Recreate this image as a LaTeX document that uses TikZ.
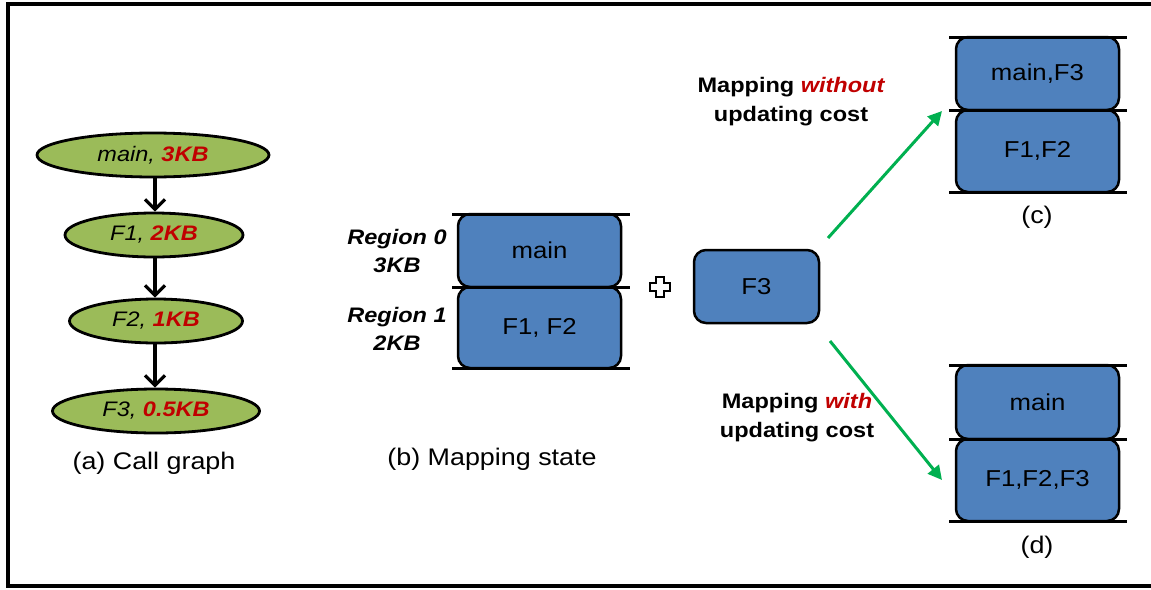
\documentclass[tikz,border=0pt]{standalone}
\usepackage{fontspec}
\setmainfont[FakeStretch=1.12]{Liberation Sans}
\usetikzlibrary{shapes.geometric,arrows.meta,calc}
\definecolor{ovgreen}{HTML}{9BBB59}
\definecolor{ofblue}{HTML}{4F81BD}
\definecolor{dred}{HTML}{C00000}
\definecolor{agreen}{HTML}{00B050}
\tikzset{
  ell/.style={ellipse,draw=black,line width=2.8pt,fill=ovgreen,minimum height=44pt,inner sep=0pt,font=\fontsize{21}{25}\selectfont\itshape},
  blk/.style={rectangle,rounded corners=12pt,draw=black,line width=2.5pt,fill=ofblue,inner sep=0pt,font=\fontsize{23}{27}\selectfont},
  bar/.style={line width=3pt},
  cg/.style={draw=black,line width=3.6pt,-{Straight Barb[length=10pt,width=20pt,line width=3.2pt]}},
  ga/.style={line width=3pt,agreen,-{Triangle[length=14pt,width=14pt]}},
  lbl/.style={font=\fontsize{21}{29}\selectfont,align=center,inner sep=0pt},
  subcap/.style={font=\fontsize{24}{29}\selectfont,inner sep=0pt},
}
\newcommand{\kb}[1]{\textcolor{dred}{\bfseries #1}}
\begin{document}
\begin{tikzpicture}[x=1pt,y=-1pt]
\useasboundingbox (0,0) rectangle (1151,589);
\draw[line width=3.5pt] (1151,4) -- (8,4) -- (8,586) -- (1151,586);

% (a) call graph
\node[ell,minimum width=232pt] (m) at (153,155) {main, \kb{3KB}};
\node[ell,minimum width=178pt] (f1) at (154,235) {F1, \kb{2KB}};
\node[ell,minimum width=173pt] (f2) at (156,321) {F2, \kb{1KB}};
\node[ell,minimum width=207pt] (f3) at (156,411) {F3, \kb{0.5KB}};
\coordinate (ax) at (155,0);
\draw[cg] (m.south -| ax) -- (f1.north -| ax);
\draw[cg] (f1.south -| ax) -- (f2.north -| ax);
\draw[cg] (f2.south -| ax) -- (f3.north -| ax);
\node[subcap] (la) at (154,463) {(a) Call graph};

% (b) mapping state
\node[blk,minimum width=163pt,minimum height=73pt] (bm) at (539.5,250.5) {main};
\node[blk,minimum width=163pt,minimum height=81pt] (bf) at (539.5,327.5) {F1, F2};
\draw[bar] (452,214) -- (630,214);
\draw[bar] (452,287) -- (630,287);
\draw[bar] (452,368) -- (630,368);
\node[lbl,font=\fontsize{21}{28}\selectfont\bfseries\itshape] (r0) at (397,251) {Region 0\\3KB};
\node[lbl,font=\fontsize{21}{28}\selectfont\bfseries\itshape] (r1) at (397,329) {Region 1\\2KB};
\node[subcap] (lb) at (492,459) {(b) Mapping state};

% plus
\draw[line width=1.3pt,fill=white] (656,277) -- (664,277) -- (664,283) -- (670,283) -- (670,291) -- (664,291) -- (664,297) -- (656,297) -- (656,291) -- (650,291) -- (650,283) -- (656,283) -- cycle;

% F3
\node[blk,minimum width=125pt,minimum height=73pt] (nf3) at (756.5,286.5) {F3};

% (c)
\node[blk,minimum width=163pt,minimum height=73pt] (cm) at (1037.5,73.5) {main,F3};
\node[blk,minimum width=163pt,minimum height=82pt] (cf) at (1037.5,151) {F1,F2};
\draw[bar] (949,37) -- (1127,37);
\draw[bar] (949,110) -- (1127,110);
\draw[bar] (949,192) -- (1127,192);
\node[subcap] (lc) at (1037,217) {(c)};

% (d)
\node[blk,minimum width=163pt,minimum height=74pt] (dm) at (1037.5,402) {main};
\node[blk,minimum width=163pt,minimum height=82pt] (df) at (1037.5,480) {F1,F2,F3};
\draw[bar] (949,365) -- (1127,365);
\draw[bar] (949,439) -- (1127,439);
\draw[bar] (949,521) -- (1127,521);
\node[subcap] (ld) at (1037,547) {(d)};

% arrows
\coordinate (s1) at (828,238);
\coordinate (e1) at (942,111);
\coordinate (s2) at (830,341);
\coordinate (e2) at (942,480);
\draw[ga] (s1) -- (e1);
\draw[ga] (s2) -- (e2);
\node[lbl,font=\fontsize{21}{29}\selectfont\bfseries] (t1) at (791,102) {Mapping \textcolor{dred}{\itshape without}\\updating cost};
\node[lbl,font=\fontsize{21}{29}\selectfont\bfseries] (t2) at (797,418) {Mapping \textcolor{dred}{\itshape with}\\updating cost};
\end{tikzpicture}
\end{document}
